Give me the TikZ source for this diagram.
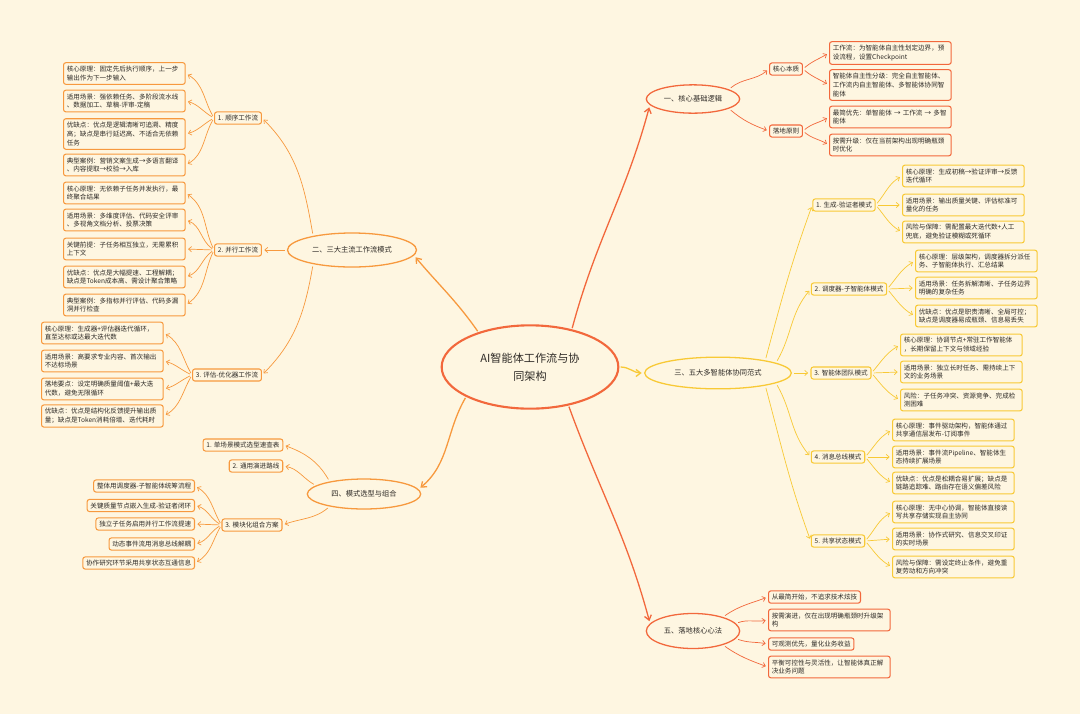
\documentclass[tikz,border=0pt]{standalone}
\usepackage{fontspec}
\setmainfont{Noto Sans CJK SC}
\usetikzlibrary{shapes.geometric,arrows.meta}

\definecolor{cbg}{HTML}{FEF6E1}
\definecolor{cred}{HTML}{F2683C}
\definecolor{corange}{HTML}{F7993E}
\definecolor{cyellow}{HTML}{F8C935}
\definecolor{cink}{HTML}{2E2A26}

\tikzset{
  topic/.style={ellipse, draw, line width=1.1pt, fill=cbg, text=cink, inner sep=0pt,
    font=\fontsize{6.2}{8}\selectfont},
  subbox/.style={draw, rounded corners=2pt, line width=0.9pt, fill=cbg, text=cink,
    inner xsep=0.1cm, inner ysep=0.07cm, font=\fontsize{5.6}{7.6}\selectfont},
  leafbox/.style={subbox, anchor=west, text width=3.45cm, align=left, inner ysep=0.1cm},
  tipbox/.style={subbox, inner ysep=0.09cm},
  link/.style={-{Straight Barb[length=2.5pt,width=4.5pt]}, line width=0.6pt,
    shorten >=2pt, shorten <=2pt},
  trunk/.style={-{Straight Barb[length=4pt,width=6pt]}, line width=1.1pt,
    shorten >=2pt, shorten <=1pt},
}

\begin{document}
\begin{tikzpicture}[x=0.03cm, y=-0.03cm]
    % 背景
    \fill[cbg] (0,0) rectangle (1080,714);
    \useasboundingbox (0,0) rectangle (1080,714);

    % 中心主题
    \node[topic, draw=cred, line width=1.8pt, minimum width=5.3cm, minimum height=2.5cm,
      align=center, font=\fontsize{9.5}{15}\selectfont] (root) at (530,367)
      {AI智能体工作流与协\\同架构};

    % 一、核心基础逻辑
    \begin{scope}[cred]
    \node[topic, minimum width=2.8cm, minimum height=0.85cm] (b1) at (693,99) {一、核心基础逻辑};
    \node[tipbox] (s11) at (786,69) {核心本质};
    \node[tipbox] (s12) at (786,131) {落地原则};
    \node[leafbox] (l111) at (829,53) {工作流：为智能体自主性划定边界，预\\设流程，设置Checkpoint};
    \node[leafbox] (l112) at (829,85) {智能体自主性分级：完全自主智能体、\\工作流内自主智能体、多智能体协同智\\能体};
    \node[leafbox] (l121) at (829,117) {最简优先：单智能体 → 工作流 → 多智\\能体};
    \node[leafbox] (l122) at (829,145) {按需升级：仅在当前架构出现明确瓶颈\\时优化};
    \draw[trunk] (root.42) to[out=75,in=-105] (b1.188);
    \draw[link] (b1.15) to[out=40,in=-140] (s11.west);
    \draw[link] (b1.-15) to[out=-40,in=160] (s12.west);
    \draw[link] (s11.east) to[out=40,in=-150] (l111.west);
    \draw[link] (s11.east) to[out=-40,in=150] (l112.west);
    \draw[link] (s12.east) to[out=40,in=-150] (l121.west);
    \draw[link] (s12.east) to[out=-40,in=150] (l122.west);
    \end{scope}

    % 二、三大主流工作流模式
    \begin{scope}[corange]
    \node[topic, minimum width=3.87cm, minimum height=1.02cm] (b2) at (352,250) {二、三大主流工作流模式};
    \node[tipbox] (s21) at (238,118) {1. 顺序工作流};
    \node[tipbox] (s22) at (238,250) {2. 并行工作流};
    \node[tipbox] (s23) at (227,375) {3. 评估-优化器工作流};
    \node[leafbox] (l211) at (63,73.5) {核心原理：固定先后执行顺序，上一步\\输出作为下一步输入};
    \node[leafbox] (l212) at (63,101) {适用场景：强依赖任务、多阶段流水线\\、数据加工、草稿-评审-定稿};
    \node[leafbox] (l213) at (63,134) {优缺点：优点是逻辑清晰可追溯、精度\\高；缺点是串行延迟高、不适合无依赖\\任务};
    \node[leafbox] (l214) at (63,165) {典型案例：营销文案生成→多语言翻译\\、内容提取→校验→入库};
    \node[leafbox] (l221) at (63,193) {核心原理：无依赖子任务并发执行，最\\终聚合结果};
    \node[leafbox] (l222) at (63,220) {适用场景：多维度评估、代码安全评审\\、多视角文档分析、投票决策};
    \node[leafbox] (l223) at (63,249) {关键前提：子任务相互独立，无需累积\\上下文};
    \node[leafbox] (l224) at (63,277) {优缺点：优点是大幅提速、工程解耦；\\缺点是Token成本高、需设计聚合策略};
    \node[leafbox] (l225) at (63,305) {典型案例：多指标并行评估、代码多漏\\洞并行检查};
    \node[leafbox] (l231) at (41,333) {核心原理：生成器+评估器迭代循环，\\直至达标或达最大迭代数};
    \node[leafbox] (l232) at (41,361) {适用场景：高要求专业内容、首次输出\\不达标场景};
    \node[leafbox] (l233) at (41,389) {落地要点：设定明确质量阈值+最大迭\\代数，避免无限循环};
    \node[leafbox] (l234) at (41,416) {优缺点：优点是结构化反馈提升输出质\\量；缺点是Token消耗倍增、迭代耗时};
    \draw[trunk] (root.146) to[out=125,in=-50] (b2.-5);
    \draw[link] (b2.160) to[out=100,in=-45] (s21.east);
    \draw[link] (b2.west) -- (s22.east);
    \draw[link] (b2.200) to[out=-100,in=45] (s23.east);
    \draw[link] (s21.west) to[out=120,in=-30] (l211.east);
    \draw[link] (s21.west) to[out=150,in=-15] (l212.east);
    \draw[link] (s21.west) to[out=-150,in=15] (l213.east);
    \draw[link] (s21.west) to[out=-120,in=30] (l214.east);
    \draw[link] (s22.west) to[out=115,in=-35] (l221.east);
    \draw[link] (s22.west) to[out=145,in=-20] (l222.east);
    \draw[link] (s22.west) -- (l223.east);
    \draw[link] (s22.west) to[out=-145,in=20] (l224.east);
    \draw[link] (s22.west) to[out=-115,in=35] (l225.east);
    \draw[link] (s23.west) to[out=120,in=-30] (l231.east);
    \draw[link] (s23.west) to[out=155,in=-15] (l232.east);
    \draw[link] (s23.west) to[out=-155,in=15] (l233.east);
    \draw[link] (s23.west) to[out=-120,in=30] (l234.east);
    \end{scope}

    % 三、五大多智能体协同范式
    \begin{scope}[cyellow]
    \node[topic, minimum width=4.4cm, minimum height=0.95cm] (b3) at (718,373) {三、五大多智能体协同范式};
    \node[tipbox] (s31) at (844,205) {1. 生成-验证者模式};
    \node[tipbox] (s32) at (849,289) {2. 调度器-子智能体模式};
    \node[tipbox] (s33) at (841,373) {3. 智能体团队模式};
    \node[tipbox] (s34) at (838,457) {4. 消息总线模式};
    \node[tipbox] (s35) at (838,541) {5. 共享状态模式};
    \node[leafbox] (l311) at (902,176) {核心原理：生成初稿→验证评审→反馈\\迭代循环};
    \node[leafbox] (l312) at (902,205) {适用场景：输出质量关键、评估标准可\\量化的任务};
    \node[leafbox] (l313) at (902,232) {风险与保障：需配置最大迭代数+人工\\兜底，避免验证模糊或死循环};
    \node[leafbox] (l321) at (915,261) {核心原理：层级架构，调度器拆分派任\\务、子智能体执行、汇总结果};
    \node[leafbox] (l322) at (915,288) {适用场景：任务拆解清晰、子任务边界\\明确的复杂任务};
    \node[leafbox] (l323) at (915,316) {优缺点：优点是职责清晰、全局可控；\\缺点是调度器易成瓶颈、信息易丢失};
    \node[leafbox] (l331) at (900,345) {核心原理：协调节点+常驻工作智能体\\，长期保留上下文与领域经验};
    \node[leafbox] (l332) at (900,372) {适用场景：独立长时任务、需持续上下\\文的业务场景};
    \node[leafbox] (l333) at (900,400) {风险：子任务冲突、资源竞争、完成检\\测困难};
    \node[leafbox] (l341) at (892,430) {核心原理：事件驱动架构，智能体通过\\共享通信层发布-订阅事件};
    \node[leafbox] (l342) at (892,457) {适用场景：事件流Pipeline、智能体生\\态持续扩展场景};
    \node[leafbox] (l343) at (892,483) {优缺点：优点是松耦合易扩展；缺点是\\链路追踪难、路由存在语义偏差风险};
    \node[leafbox] (l351) at (892,512) {核心原理：无中心协调，智能体直接读\\写共享存储实现自主协同};
    \node[leafbox] (l352) at (892,539) {适用场景：协作式研究、信息交叉印证\\的实时场景};
    \node[leafbox] (l353) at (892,567) {风险与保障：需设定终止条件，避免重\\复劳动和方向冲突};
    \draw[trunk] (root.east) to[out=0,in=180] (b3.west);
    \draw[link] (b3.15) to[out=75,in=-110] (s31.west);
    \draw[link] (b3.10) to[out=60,in=-130] (s32.west);
    \draw[link] (b3.east) -- (s33.west);
    \draw[link] (b3.-10) to[out=-60,in=130] (s34.west);
    \draw[link] (b3.-15) to[out=-75,in=110] (s35.west);
    \draw[link] (s31.east) to[out=50,in=-150] (l311.west);
    \draw[link] (s31.east) -- (l312.west);
    \draw[link] (s31.east) to[out=-50,in=150] (l313.west);
    \draw[link] (s32.east) to[out=50,in=-150] (l321.west);
    \draw[link] (s32.east) -- (l322.west);
    \draw[link] (s32.east) to[out=-50,in=150] (l323.west);
    \draw[link] (s33.east) to[out=50,in=-150] (l331.west);
    \draw[link] (s33.east) -- (l332.west);
    \draw[link] (s33.east) to[out=-50,in=150] (l333.west);
    \draw[link] (s34.east) to[out=50,in=-150] (l341.west);
    \draw[link] (s34.east) -- (l342.west);
    \draw[link] (s34.east) to[out=-50,in=150] (l343.west);
    \draw[link] (s35.east) to[out=50,in=-150] (l351.west);
    \draw[link] (s35.east) -- (l352.west);
    \draw[link] (s35.east) to[out=-50,in=150] (l353.west);
    \end{scope}

    % 四、模式选型与组合
    \begin{scope}[corange]
    \node[topic, minimum width=3.4cm, minimum height=0.9cm] (b4) at (364,494) {四、模式选型与组合};
    \node[tipbox] (s41) at (243,445) {1. 单场景模式选型速查表};
    \node[tipbox] (s42) at (256,466) {2. 通用演进路线};
    \node[tipbox] (s43) at (252,525) {3. 模块化组合方案};
    \node[tipbox, anchor=east] (l431) at (195,486) {整体用调度器-子智能体统筹流程};
    \node[tipbox, anchor=east] (l432) at (195,505.5) {关键质量节点嵌入生成-验证者闭环};
    \node[tipbox, anchor=east] (l433) at (195,524) {独立子任务启用并行工作流提速};
    \node[tipbox, anchor=east] (l434) at (195,544) {动态事件流用消息总线解耦};
    \node[tipbox, anchor=east] (l435) at (195,563) {协作研究环节采用共享状态互通信息};
    \draw[trunk] (root.205) to[out=240,in=40] (b4.5);
    \draw[link] (b4.160) to[out=120,in=-20] (s41.east);
    \draw[link] (b4.170) to[out=150,in=-10] (s42.east);
    \draw[link] (b4.200) to[out=-140,in=20] (s43.east);
    \draw[link] (s43.west) to[out=120,in=-30] (l431.east);
    \draw[link] (s43.west) to[out=150,in=-15] (l432.east);
    \draw[link] (s43.west) -- (l433.east);
    \draw[link] (s43.west) to[out=-150,in=15] (l434.east);
    \draw[link] (s43.west) to[out=-120,in=30] (l435.east);
    \end{scope}

    % 五、落地核心心法
    \begin{scope}[cred]
    \node[topic, minimum width=2.8cm, minimum height=1.05cm] (b5) at (693,631) {五、落地核心心法};
    \node[tipbox, anchor=west] (l51) at (768,597) {从最简开始，不追求技术炫技};
    \node[leafbox] (l52) at (768,620) {按需演进，仅在出现明确瓶颈时升级架\\构};
    \node[tipbox, anchor=west] (l53) at (768,644) {可观测优先，量化业务收益};
    \node[leafbox] (l54) at (768,667) {平衡可控性与灵活性，让智能体真正解\\决业务问题};
    \draw[trunk] (root.-45) to[out=-70,in=105] (b5.170);
    \draw[link] (b5.25) to[out=35,in=-160] (l51.west);
    \draw[link] (b5.10) to[out=20,in=-170] (l52.west);
    \draw[link] (b5.-10) to[out=-20,in=170] (l53.west);
    \draw[link] (b5.-25) to[out=-35,in=160] (l54.west);
    \end{scope}
\end{tikzpicture}
\end{document}
